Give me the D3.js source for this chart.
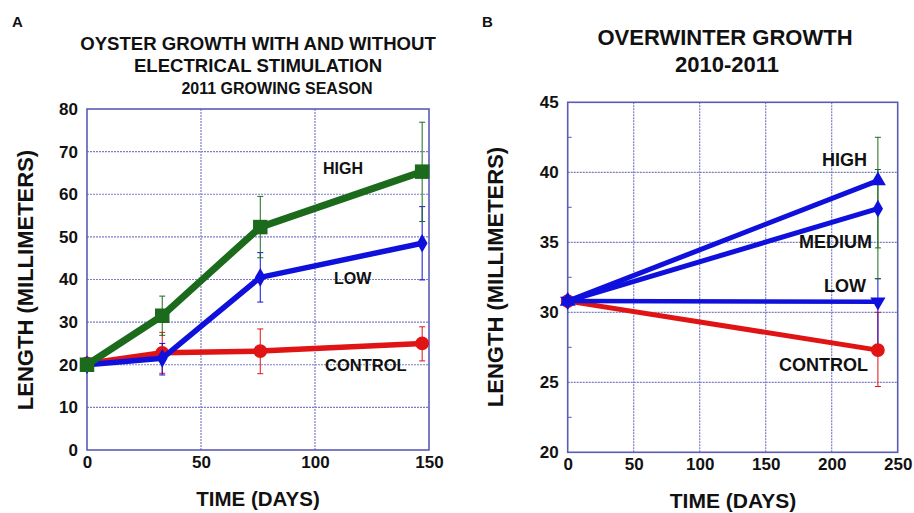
<!DOCTYPE html>
<html>
<head>
<meta charset="utf-8">
<script src="https://cdn.jsdelivr.net/npm/d3@7"></script>
<style>
body { margin: 0; background: #fff; }
svg { font-family: "Liberation Sans", Arial, sans-serif; font-weight: bold; }
</style>
</head>
<body>
<div id="chart"></div>
<script>
// panel A: 2011 growing season
const days_a = [0, 33, 76, 147]
const high_a = [20, 31.5, 52.3, 65.3]
const high_a_lo = [null, 26.9, 45.1, 53.6]
const high_a_hi = [null, 36.1, 59.5, 76.9]
const low_a = [20, 21.5, 40.5, 48.5]
const low_a_lo = [null, 17.6, 34.7, 39.9]
const low_a_hi = [null, 25.0, 46.3, 57.1]
const control_a = [20.3, 22.8, 23.2, 25.0]
const control_a_lo = [null, 18.0, 17.9, 20.9]
const control_a_hi = [null, 27.6, 28.4, 28.9]
const x_ticks_a = [0, 50, 100, 150]
const y_ticks_a = [0, 10, 20, 30, 40, 50, 60, 70, 80]

// panel B: overwinter 2010-2011
const days_b = [0, 235]
const high_b = [30.8, 39.4]
const high_b_lo = [null, 32.4]
const high_b_hi = [null, 42.5]
const medium_b = [30.8, 37.4]
const medium_b_lo = [null, 34.6]
const medium_b_hi = [null, 40.2]
const low_b = [30.8, 30.75]
const low_b_lo = [null, 27.3]
const low_b_hi = [null, 32.4]
const control_b = [30.8, 27.3]
const control_b_lo = [null, 24.7]
const control_b_hi = [null, 30.0]
const x_ticks_b = [0, 50, 100, 150, 200, 250]
const y_ticks_b = [20, 25, 30, 35, 40, 45]

const green = '#1c6b1c'
const blue = '#1010dd'
const red = '#e01414'
const frame_color = '#5a5ab8'
const grid_color = '#7c7cc6'

const svg = d3.select('#chart')
    .append('svg')
    .attr('width', 914)
    .attr('height', 513)

function draw_frame(x, y, x_ticks, y_ticks, minor_step) {
    const [x0, x1] = x.range()
    const [y0, y1] = y.range()
    const grid = svg.append('g')
    grid.selectAll('.vx')
        .data(x_ticks.slice(1, -1))
        .enter()
        .append('line')
        .attr('x1', d => x(d)).attr('x2', d => x(d))
        .attr('y1', y0).attr('y2', y1)
        .attr('stroke', grid_color).attr('stroke-width', 1.2)
        .attr('stroke-dasharray', '2,1')
    grid.selectAll('.hy')
        .data(y_ticks.slice(1, -1))
        .enter()
        .append('line')
        .attr('x1', x0).attr('x2', x1)
        .attr('y1', d => y(d)).attr('y2', d => y(d))
        .attr('stroke', grid_color).attr('stroke-width', 1.2)
        .attr('stroke-dasharray', '2,1')
    if (minor_step) {
        const minor = d3.range(y.domain()[0] + minor_step, y.domain()[1], minor_step * 2)
        grid.selectAll('.mn')
            .data(minor)
            .enter()
            .append('line')
            .attr('x1', x0).attr('x2', x0 + 4)
            .attr('y1', d => y(d)).attr('y2', d => y(d))
            .attr('stroke', frame_color).attr('stroke-width', 1)
    }
    svg.append('rect')
        .attr('x', x0).attr('y', y1)
        .attr('width', x1 - x0).attr('height', y0 - y1)
        .attr('fill', 'none')
        .attr('stroke', frame_color)
        .attr('stroke-width', 1.6)

    const ax_x = svg.append('g')
        .attr('transform', `translate(0,${y0})`)
        .call(d3.axisBottom(x).tickValues(x_ticks).tickSize(0).tickPadding(6))
    const ax_y = svg.append('g')
        .attr('transform', `translate(${x0},0)`)
        .call(d3.axisLeft(y).tickValues(y_ticks).tickSize(0).tickPadding(9))
    for (const ax of [ax_x, ax_y]) {
        ax.select('.domain').remove()
        ax.selectAll('text')
            .attr('font-family', '"Liberation Sans", Arial, sans-serif')
            .attr('font-weight', 'bold')
            .attr('font-size', 17)
            .attr('fill', '#111')
    }
}

function draw_errors(x, y, days, lo, hi, color) {
    const idx = d3.range(days.length).filter(i => lo[i] != null)
    const g = svg.append('g').attr('stroke', color).attr('stroke-width', 1)
    g.selectAll('.bar').data(idx).enter().append('line')
        .attr('x1', i => x(days[i])).attr('x2', i => x(days[i]))
        .attr('y1', i => y(lo[i])).attr('y2', i => y(hi[i]))
    g.selectAll('.cap_lo').data(idx).enter().append('line')
        .attr('x1', i => x(days[i]) - 3).attr('x2', i => x(days[i]) + 3)
        .attr('y1', i => y(lo[i])).attr('y2', i => y(lo[i]))
    g.selectAll('.cap_hi').data(idx).enter().append('line')
        .attr('x1', i => x(days[i]) - 3).attr('x2', i => x(days[i]) + 3)
        .attr('y1', i => y(hi[i])).attr('y2', i => y(hi[i]))
}

function draw_series(x, y, days, values, color, width, symbol, size) {
    const pts = days.map((d, i) => [x(d), y(values[i])])
    svg.append('path')
        .attr('d', d3.line()(pts))
        .attr('stroke', color)
        .attr('stroke-width', width)
        .attr('stroke-linejoin', 'round')
        .attr('fill', 'none')
    svg.append('g').selectAll('path')
        .data(pts)
        .enter()
        .append('path')
        .attr('transform', d => `translate(${d[0]},${d[1]})`)
        .attr('d', d3.symbol().type(symbol).size(size))
        .attr('fill', color)
}

function triangle_down() {
    return {
        draw(context, size) {
            const s = Math.sqrt(size / (Math.sqrt(3) / 4))
            const h = s * Math.sqrt(3) / 2
            context.moveTo(-s / 2, -h / 3)
            context.lineTo(s / 2, -h / 3)
            context.lineTo(0, 2 * h / 3)
            context.closePath()
        }
    }
}

function add_text(txt, x, y, size, anchor, rotate) {
    svg.append('text')
        .attr('transform', `translate(${x},${y})` + (rotate ? ` rotate(${rotate})` : ''))
        .attr('text-anchor', anchor || 'middle')
        .attr('font-size', size)
        .attr('fill', '#111')
        .text(txt)
}

// ---- panel A ----
const xa = d3.scaleLinear().domain([0, 150]).range([87, 429])
const ya = d3.scaleLinear().domain([0, 80]).range([450, 109])
draw_frame(xa, ya, x_ticks_a, y_ticks_a)
draw_errors(xa, ya, days_a, control_a_lo, control_a_hi, red)
draw_errors(xa, ya, days_a, low_a_lo, low_a_hi, blue)
draw_errors(xa, ya, days_a, high_a_lo, high_a_hi, green)
draw_series(xa, ya, days_a, control_a, red, 5.5, d3.symbolCircle, 150)
draw_series(xa, ya, days_a, low_a, blue, 5.5, d3.symbolDiamond, 100)
draw_series(xa, ya, days_a, high_a, green, 7, d3.symbolSquare, 210)

add_text('A', 12, 27, 15, 'start')
add_text('OYSTER GROWTH WITH AND WITHOUT', 258, 50, 18.6)
add_text('ELECTRICAL STIMULATION', 258, 72, 18.6)
add_text('2011 GROWING SEASON', 277, 94, 16)
add_text('HIGH', 323, 174, 16, 'start')
add_text('LOW', 334, 284, 16, 'start')
add_text('CONTROL', 325, 371, 16.5, 'start')
add_text('TIME (DAYS)', 258, 506, 20.5)
add_text('LENGTH (MILLIMETERS)', 33, 280, 22, 'middle', -90)

// ---- panel B ----
const xb = d3.scaleLinear().domain([0, 250]).range([567.7, 897.7])
const yb = d3.scaleLinear().domain([20, 45]).range([452.3, 102.3])
draw_frame(xb, yb, x_ticks_b, y_ticks_b, 2.5)
draw_errors(xb, yb, days_b, control_b_lo, control_b_hi, red)
draw_errors(xb, yb, days_b, low_b_lo, low_b_hi, blue)
draw_errors(xb, yb, days_b, medium_b_lo, medium_b_hi, green)
draw_errors(xb, yb, days_b, high_b_lo, high_b_hi, green)
draw_series(xb, yb, days_b, control_b, red, 5, d3.symbolCircle, 150)
draw_series(xb, yb, days_b, low_b, blue, 4.5, triangle_down(), 100)
draw_series(xb, yb, days_b, medium_b, blue, 5, d3.symbolDiamond, 90)
draw_series(xb, yb, days_b, high_b, blue, 5, d3.symbolTriangle, 110)

add_text('B', 482, 27, 15, 'start')
add_text('OVERWINTER GROWTH', 725, 45, 22)
add_text('2010-2011', 727, 72, 22)
add_text('HIGH', 867, 166, 18, 'end')
add_text('MEDIUM', 872, 248, 18, 'end')
add_text('LOW', 866, 292, 18, 'end')
add_text('CONTROL', 868, 371, 18, 'end')
add_text('TIME (DAYS)', 733, 508, 21)
add_text('LENGTH (MILLIMETERS)', 503, 277, 22, 'middle', -90)
</script>
</body>
</html>
